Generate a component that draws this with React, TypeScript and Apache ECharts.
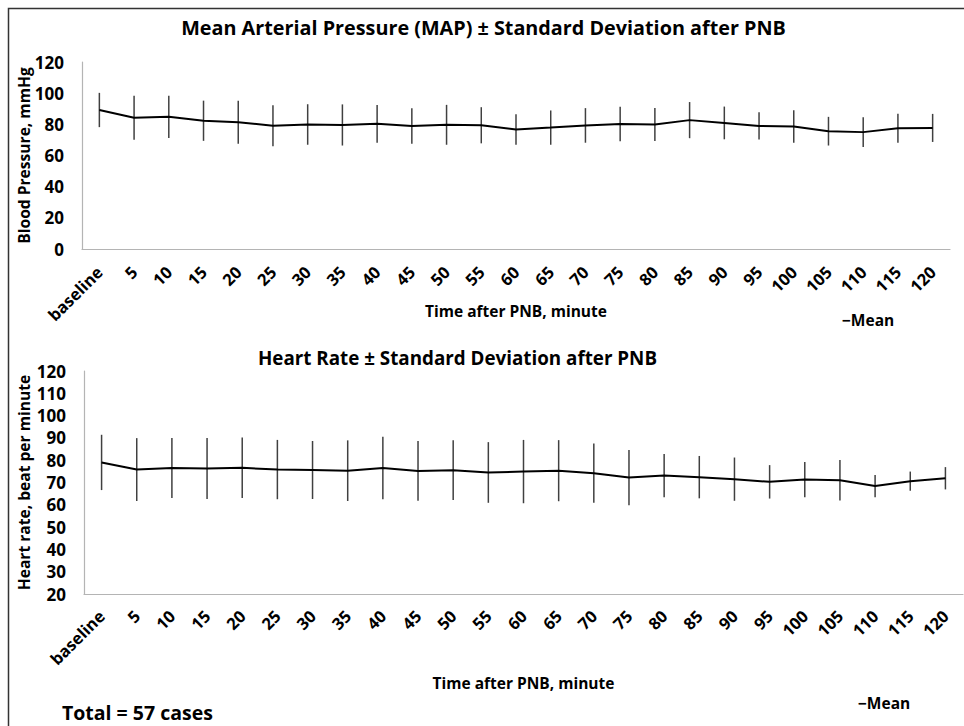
import React, { useEffect, useRef } from "react";
import * as echarts from "echarts";

const categories = [
  "baseline", "5", "10", "15", "20", "25", "30", "35", "40", "45", "50", "55", "60",
  "65", "70", "75", "80", "85", "90", "95", "100", "105", "110", "115", "120",
];

const mapMean = [
  89.2, 84.2, 84.8, 82.3, 81.4, 79.1, 79.9, 79.6, 80.3, 79.0, 79.7, 79.4, 76.7,
  77.9, 79.3, 80.2, 79.9, 82.7, 80.9, 79.0, 78.6, 75.6, 75.0, 77.5, 77.7,
];
const mapSD = [
  11.0, 14.1, 13.6, 12.9, 13.8, 13.1, 13.0, 13.2, 12.1, 11.4, 12.8, 11.6, 9.8,
  11.0, 11.1, 11.1, 10.6, 11.6, 10.5, 8.8, 10.4, 9.2, 9.5, 9.3, 9.0,
];

const hrMean = [
  79.0, 75.8, 76.5, 76.3, 76.6, 75.8, 75.6, 75.3, 76.5, 75.2, 75.5, 74.5, 74.9,
  75.3, 74.2, 72.2, 73.1, 72.4, 71.5, 70.3, 71.3, 71.0, 68.4, 70.6, 71.9,
];
const hrSD = [
  12.4, 14.1, 13.5, 13.7, 13.6, 13.3, 13.0, 13.6, 14.0, 13.4, 13.4, 13.6, 14.2,
  13.7, 13.3, 12.4, 9.7, 9.5, 9.7, 7.5, 7.9, 9.1, 5.0, 4.3, 5.0,
];

const mapTitle = "Mean Arterial Pressure (MAP) ± Standard Deviation after PNB";
const hrTitle = "Heart Rate ± Standard Deviation after PNB";
const xName = "Time after PNB, minute";
const mapYName = "Blood Pressure, mmHg";
const hrYName = "Heart rate, beat per minute";
const legendText = "\u2212Mean";
const totalText = "Total = 57 cases";

const FONT = "Open Sans";

function errorItem(params: any, api: any) {
  const lo = api.coord([api.value(0), api.value(1)]);
  const hi = api.coord([api.value(0), api.value(2)]);
  return {
    type: "line",
    shape: { x1: lo[0], y1: lo[1], x2: hi[0], y2: hi[1] },
    style: { stroke: "#404040", lineWidth: 1.5 },
  };
}

function makeX(gridIndex: number, nameGap: number, margin: number) {
  return {
    type: "category",
    gridIndex,
    data: categories,
    boundaryGap: true,
    axisLine: { show: true, onZero: false, lineStyle: { color: "#b4b4b4", width: 1.2 } },
    axisTick: { show: false },
    splitLine: { show: false },
    axisLabel: {
      interval: 0,
      rotate: 45,
      margin,
      color: "#000",
      fontFamily: FONT,
      fontWeight: "bold",
      fontSize: 16.5,
    },
    name: xName,
    nameLocation: "middle",
    nameGap,
    nameMoveOverlap: false,
    nameTextStyle: { color: "#000", fontFamily: FONT, fontWeight: "bold", fontSize: 15.5 },
  };
}

function makeY(gridIndex: number, min: number, max: number, interval: number, name: string, nameGap: number) {
  return {
    type: "value",
    gridIndex,
    min,
    max,
    interval,
    axisLine: { show: true, lineStyle: { color: "#b4b4b4", width: 1.2 } },
    axisTick: { show: false },
    splitLine: { show: false },
    axisLabel: {
      margin: 18,
      color: "#000",
      fontFamily: FONT,
      fontWeight: "bold",
      fontSize: 17,
    },
    name,
    nameLocation: "middle",
    nameRotate: 90,
    nameGap,
    nameMoveOverlap: false,
    nameTextStyle: { color: "#000", fontFamily: FONT, fontWeight: "bold", fontSize: 15.6 },
  };
}

export default function App() {
  const ref = useRef<HTMLDivElement>(null);

  useEffect(() => {
    if (!ref.current) return;
    const chart = echarts.init(ref.current, undefined, { renderer: "svg" });
    chart.setOption({
      animation: false,
      backgroundColor: "#fff",
      grid: [
        { left: 82, right: 14, top: 62, bottom: 477 },
        { left: 84, right: 1, top: 371, bottom: 132 },
      ],
      xAxis: [makeX(0, 54, 20), makeX(1, 81, 19)],
      yAxis: [
        makeY(0, 0, 120, 20, mapYName, 50),
        makeY(1, 20, 120, 10, hrYName, 52),
      ],
      series: [
        {
          type: "custom",
          xAxisIndex: 0,
          yAxisIndex: 0,
          renderItem: errorItem,
          encode: { x: 0, y: [1, 2] },
          data: categories.map((_, i) => [i, mapMean[i] - mapSD[i], mapMean[i] + mapSD[i]]),
          z: 2,
        },
        {
          type: "line",
          xAxisIndex: 0,
          yAxisIndex: 0,
          data: mapMean,
          symbol: "none",
          lineStyle: { color: "#000", width: 2 },
          z: 3,
        },
        {
          type: "custom",
          xAxisIndex: 1,
          yAxisIndex: 1,
          renderItem: errorItem,
          encode: { x: 0, y: [1, 2] },
          data: categories.map((_, i) => [i, hrMean[i] - hrSD[i], hrMean[i] + hrSD[i]]),
          z: 2,
        },
        {
          type: "line",
          xAxisIndex: 1,
          yAxisIndex: 1,
          data: hrMean,
          symbol: "none",
          lineStyle: { color: "#000", width: 2 },
          z: 3,
        },
      ],
      graphic: [
        {
          type: "rect",
          shape: { x: 8.5, y: 8.5, width: 1000, height: 800 },
          style: { fill: "none", stroke: "#333", lineWidth: 1.5 },
          silent: true,
        },
        {
          type: "text",
          x: 483.5,
          y: 27,
          style: {
            text: mapTitle,
            textAlign: "center",
            textVerticalAlign: "middle",
            fill: "#000",
            font: `bold 19.8px "${FONT}"`,
          },
        },
        {
          type: "text",
          x: 457.5,
          y: 358,
          style: {
            text: hrTitle,
            textAlign: "center",
            textVerticalAlign: "middle",
            fill: "#000",
            font: `bold 18.8px "${FONT}"`,
          },
        },
        {
          type: "text",
          x: 842,
          y: 320,
          style: {
            text: legendText,
            textAlign: "left",
            textVerticalAlign: "middle",
            fill: "#000",
            font: `bold 15.5px "${FONT}"`,
          },
        },
        {
          type: "text",
          x: 858,
          y: 703,
          style: {
            text: legendText,
            textAlign: "left",
            textVerticalAlign: "middle",
            fill: "#000",
            font: `bold 15.5px "${FONT}"`,
          },
        },
        {
          type: "text",
          x: 62,
          y: 712,
          style: {
            text: totalText,
            textAlign: "left",
            textVerticalAlign: "middle",
            fill: "#000",
            font: `bold 19.5px "${FONT}"`,
          },
        },
      ],
    });
    return () => chart.dispose();
  }, []);

  return (
    <div
      ref={ref}
      style={{ position: "absolute", left: 0, top: 0, width: 964, height: 726 }}
    />
  );
}
